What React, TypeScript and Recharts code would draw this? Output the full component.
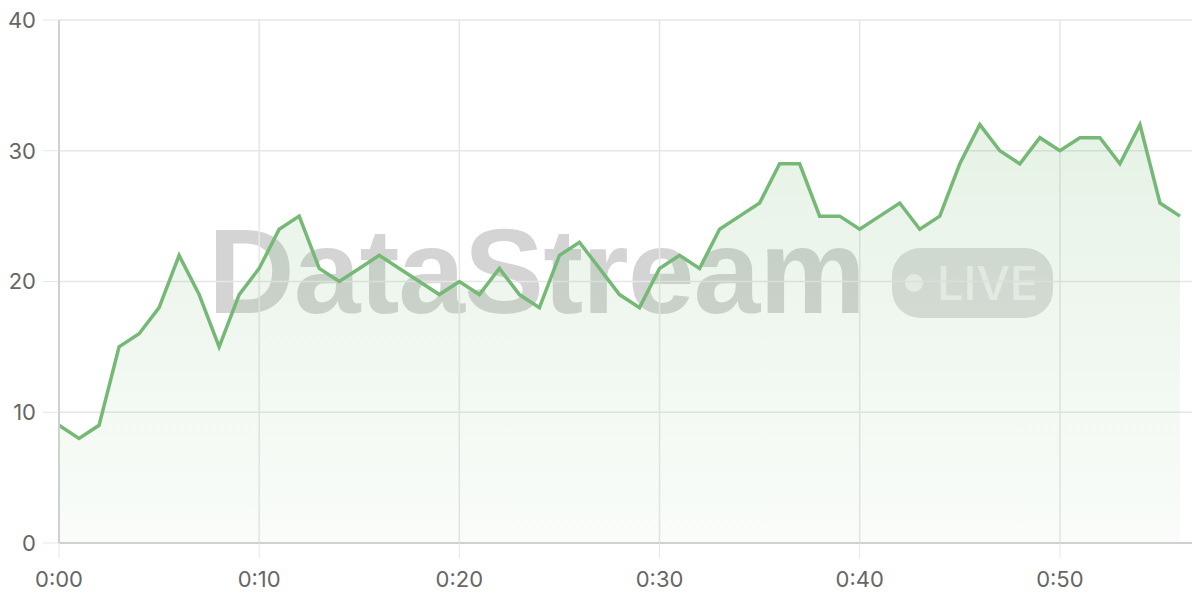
import { Area, AreaChart, CartesianGrid, XAxis, YAxis } from 'recharts';

const MINUTES = Array.from({ length: 57 }, (_, i) => i);
const VIEWERS = [
  9, 8, 9, 15, 16, 18, 22, 19, 15, 19, 21, 24, 25, 21, 20, 21, 22, 21, 20, 19,
  20, 19, 21, 19, 18, 22, 23, 21, 19, 18, 21, 22, 21, 24, 25, 26, 29, 29, 25, 25,
  24, 25, 26, 24, 25, 29, 32, 30, 29, 31, 30, 31, 31, 29, 32, 26, 25,
];
const X_TICKS = [0, 10, 20, 30, 40, 50];
const Y_TICKS = [0, 10, 20, 30, 40];

const LINE = '#76b976';
const TICK = { fontSize: 22, fill: '#666', fontFamily: 'Inter, "Open Sans", sans-serif' };

const chartData = MINUTES.map((m, i) => ({ minute: m, value: VIEWERS[i] }));

const fmtMinute = (m: number) => `0:${String(m).padStart(2, '0')}`;

function Watermark() {
  return (
    <svg
      width={1200}
      height={600}
      style={{ position: 'absolute', left: 0, top: 0, zIndex: 0 }}
    >
      <text
        x={208}
        y={313}
        fontSize={120}
        fontWeight="bold"
        fontFamily='"Liberation Sans", Arial, sans-serif'
        fill="rgba(0,0,0,0.17)"
        letterSpacing={-1}
      >
        DataStream
      </text>
      <rect x={892} y={248} width={161} height={70} rx={28} fill="rgba(0,0,0,0.13)" />
      <circle cx={914} cy={283} r={9} fill="rgba(255,255,255,0.6)" />
      <text
        x={937}
        y={300}
        fontSize={47}
        fontWeight={500}
        fontFamily='Inter, "Open Sans", sans-serif'
        fill="rgba(255,255,255,0.6)"
      >
        LIVE
      </text>
    </svg>
  );
}

export default function App() {
  return (
    <div style={{ position: 'relative', width: 1200, height: 600, margin: -8, background: '#fff' }}>
      <Watermark />
      <div style={{ position: 'absolute', left: 0, top: 0, zIndex: 1 }}>
        <AreaChart
          width={1200}
          height={600}
          data={chartData}
          margin={{ top: 20, right: 0, left: 0, bottom: 0 }}
        >
          <defs>
            <linearGradient id="areaFill" x1="0" y1="0" x2="0" y2="1">
              <stop offset="0%" stopColor={LINE} stopOpacity={0.3} />
              <stop offset="100%" stopColor={LINE} stopOpacity={0.07} />
            </linearGradient>
          </defs>
          <CartesianGrid stroke="#e6e6e6" strokeWidth={1.5} />
          <XAxis
            dataKey="minute"
            type="number"
            domain={[0, 57]}
            ticks={X_TICKS}
            tickFormatter={fmtMinute}
            height={57}
            tickSize={15}
            tickMargin={13}
            tick={TICK}
            tickLine={{ stroke: '#e6e6e6' }}
            axisLine={{ stroke: '#d0d0d0', strokeWidth: 2 }}
          />
          <YAxis
            domain={[0, 40]}
            ticks={Y_TICKS}
            width={59}
            tickSize={16}
            tickMargin={7}
            tick={TICK}
            tickLine={{ stroke: '#e6e6e6' }}
            axisLine={{ stroke: '#d0d0d0', strokeWidth: 2 }}
          />
          <Area
            type="linear"
            dataKey="value"
            stroke={LINE}
            strokeWidth={3.5}
            fill="url(#areaFill)"
            isAnimationActive={false}
            dot={false}
            activeDot={false}
          />
        </AreaChart>
      </div>
    </div>
  );
}
